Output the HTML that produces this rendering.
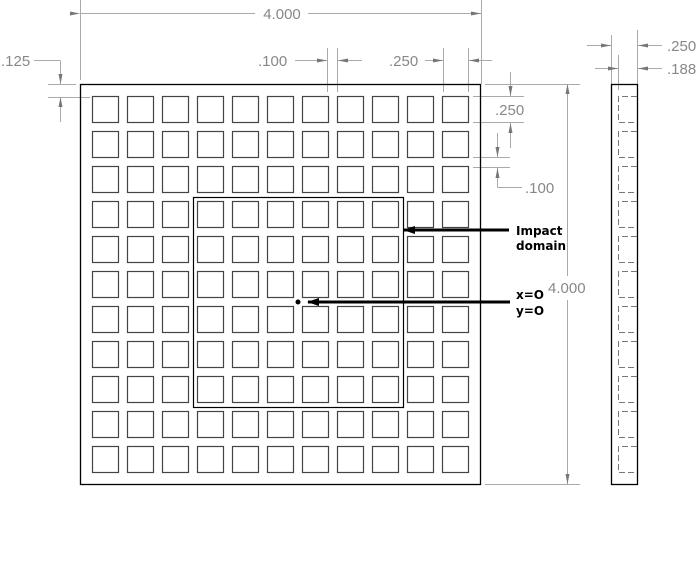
<!DOCTYPE html>
<html><head><style>body{margin:0;background:#fff}svg{display:block}</style></head><body>
<svg width="700" height="585" xmlns="http://www.w3.org/2000/svg" font-family="Liberation Sans, sans-serif">
<defs>
<marker id="a" viewBox="0 0 10 6" refX="10" refY="3" markerWidth="10" markerHeight="6" markerUnits="userSpaceOnUse" orient="auto"><path d="M0,1 L10,3 L0,5z" fill="#777"/></marker>
<marker id="b" viewBox="0 0 12 8" refX="11" refY="4" markerWidth="12" markerHeight="8" markerUnits="userSpaceOnUse" orient="auto"><path d="M0,0 L12,4 L0,8z" fill="#000"/></marker>
</defs>
<g stroke="#aaa" stroke-width="1" fill="none">
<line x1="80.5" y1="0" x2="80.5" y2="80"/><line x1="481.5" y1="0" x2="481.5" y2="80"/>
<line x1="80" y1="13.5" x2="255" y2="13.5" marker-start="url(#a)"/>
<line x1="308" y1="13.5" x2="481" y2="13.5" marker-end="url(#a)"/>
<line x1="34" y1="60.5" x2="60.5" y2="60.5"/><line x1="60.5" y1="60.5" x2="60.5" y2="84" marker-end="url(#a)"/>
<line x1="60.5" y1="122" x2="60.5" y2="97" marker-end="url(#a)"/>
<line x1="48" y1="84.5" x2="76" y2="84.5"/><line x1="48" y1="97.5" x2="90" y2="97.5"/>
<line x1="327.5" y1="48" x2="327.5" y2="92"/><line x1="337.5" y1="48" x2="337.5" y2="92"/>
<line x1="295" y1="60.5" x2="327" y2="60.5" marker-end="url(#a)"/>
<line x1="362" y1="60.5" x2="338" y2="60.5" marker-end="url(#a)"/>
<line x1="443.5" y1="48" x2="443.5" y2="92"/><line x1="468.5" y1="48" x2="468.5" y2="92"/><line x1="481.5" y1="48" x2="481.5" y2="84"/>
<line x1="425" y1="60.5" x2="443" y2="60.5" marker-end="url(#a)"/>
<line x1="492" y1="60.5" x2="469" y2="60.5" marker-end="url(#a)"/>
<line x1="473" y1="96.5" x2="524" y2="96.5"/><line x1="473" y1="122.5" x2="524" y2="122.5"/>
<line x1="510.5" y1="72" x2="510.5" y2="96" marker-end="url(#a)"/>
<line x1="510.5" y1="148" x2="510.5" y2="123" marker-end="url(#a)"/>
<line x1="473" y1="157.5" x2="510" y2="157.5"/><line x1="473" y1="167.5" x2="510" y2="167.5"/>
<line x1="497.5" y1="133" x2="497.5" y2="157" marker-end="url(#a)"/>
<line x1="497.5" y1="187.5" x2="497.5" y2="168" marker-end="url(#a)"/>
<line x1="497.5" y1="187.5" x2="522" y2="187.5"/>
<line x1="485" y1="84.5" x2="580" y2="84.5"/><line x1="485" y1="484.5" x2="580" y2="484.5"/>
<line x1="567.5" y1="276" x2="567.5" y2="84" marker-end="url(#a)"/>
<line x1="567.5" y1="300" x2="567.5" y2="484" marker-end="url(#a)"/>
<line x1="611.5" y1="35" x2="611.5" y2="84"/><line x1="637.5" y1="30" x2="637.5" y2="84"/><line x1="618.5" y1="55" x2="618.5" y2="90"/>
<line x1="587" y1="45.5" x2="611" y2="45.5" marker-end="url(#a)"/>
<line x1="662" y1="45.5" x2="638" y2="45.5" marker-end="url(#a)"/>
<line x1="595" y1="68.5" x2="618" y2="68.5" marker-end="url(#a)"/>
<line x1="662" y1="68.5" x2="638" y2="68.5" marker-end="url(#a)"/>
</g>
<g fill="#888" font-size="15">
<text x="282" y="19" text-anchor="middle">4.000</text>
<text x="1" y="66">.125</text>
<text x="258" y="66">.100</text>
<text x="389" y="66">.250</text>
<text x="495" y="115">.250</text>
<text x="525" y="193">.100</text>
<text x="548" y="293">4.000</text>
<text x="667" y="51">.250</text>
<text x="667" y="74">.188</text>
</g>
<rect x="80.5" y="84.5" width="400" height="400" fill="none" stroke="#000" stroke-width="1.3"/>
<g id="rows"></g>
<rect x="193.5" y="197.5" width="210" height="210" fill="none" stroke="#000" stroke-width="1.2"/>
<rect x="611.5" y="84.5" width="26" height="400" fill="none" stroke="#000" stroke-width="1.3"/>
<g id="side" fill="none" stroke="#777" stroke-width="1" stroke-dasharray="6,3"></g>
<circle cx="298" cy="302" r="2.5" fill="#000"/>
<line x1="509" y1="230" x2="404" y2="230" stroke="#000" stroke-width="3" marker-end="url(#b)"/>
<line x1="510" y1="302" x2="308" y2="302" stroke="#000" stroke-width="3" marker-end="url(#b)"/>
<g font-family="DejaVu Sans, sans-serif" font-weight="bold" font-size="12" fill="#000">
<text x="516" y="235">Impact</text><text x="516" y="250">domain</text>
<text x="516" y="299">x=O</text><text x="516" y="315">y=O</text>
</g>
</svg>
<script>
var ns="http://www.w3.org/2000/svg",g=document.getElementById('rows'),sd=document.getElementById('side');
for(var r=0;r<11;r++)for(var c=0;c<11;c++){var e=document.createElementNS(ns,'rect');e.setAttribute('x',92.5+35*c);e.setAttribute('y',96.5+35*r);e.setAttribute('width',26);e.setAttribute('height',26);e.setAttribute('fill','none');e.setAttribute('stroke','#444');e.setAttribute('stroke-width','1.2');g.appendChild(e);}
for(var r=0;r<11;r++){var p=document.createElementNS(ns,'path');var y=96.5+35*r;p.setAttribute('d','M637 '+y+'H618.5V'+(y+26)+'H637');sd.appendChild(p);}
</script>
</body></html>
